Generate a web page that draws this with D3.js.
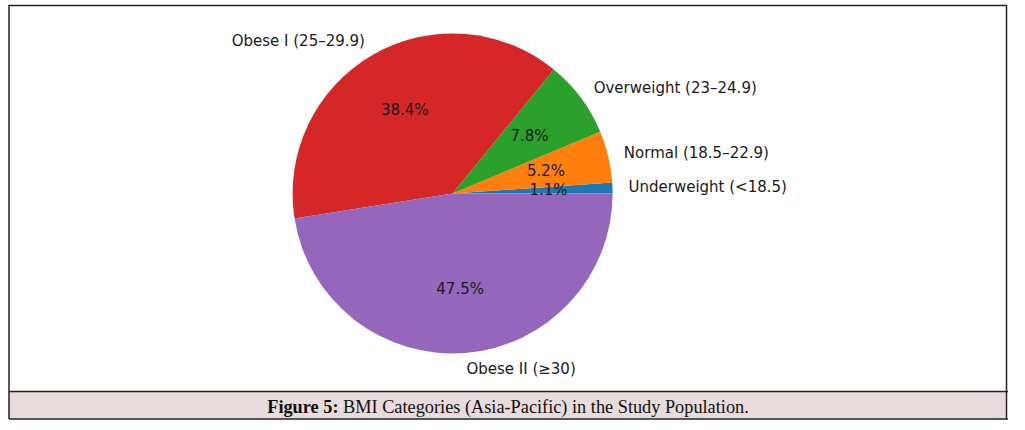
<!DOCTYPE html>
<html>
<head>
<meta charset="utf-8">
<script src="https://d3js.org/d3.v7.min.js"></script>
<style>
  body { margin: 0; background: #fff; }
  svg { display: block; }
</style>
</head>
<body>
<svg id="chart"></svg>
<script>
var width = 1025;
var height = 430;

// BMI categories, in the order matplotlib drew them (counterclockwise from 3 o'clock)
var categories = ["Underweight (<18.5)", "Normal (18.5\u201322.9)", "Overweight (23\u201324.9)", "Obese I (25\u201329.9)", "Obese II (\u226530)"];
var shares = [1.1, 5.2, 7.8, 38.4, 47.5];
var colors = ["#1f77b4", "#ff7f0e", "#2ca02c", "#d62728", "#9467bd"];
var caption = "BMI Categories (Asia-Pacific) in the Study Population.";

var cx = 452.6;
var cy = 193.5;
var radius = 160;

var svg = d3.select("#chart")
    .attr("width", width)
    .attr("height", height);

// frame and caption band
var frameLeft = 9, frameRight = 1006.5, frameTop = 5.5, bandTop = 391.5, bandBottom = 419;

svg.append("rect")
    .attr("x", frameLeft)
    .attr("y", bandTop)
    .attr("width", frameRight - frameLeft)
    .attr("height", bandBottom - bandTop)
    .attr("fill", "#e7dbdb");

svg.append("path")
    .attr("d", `M${frameLeft},${bandBottom}V${frameTop}H${frameRight}V${bandBottom}`)
    .attr("fill", "none")
    .attr("stroke", "#222")
    .attr("stroke-width", 1.5);

[bandTop, bandBottom].forEach(function (y) {
  svg.append("line")
      .attr("x1", frameLeft)
      .attr("x2", frameRight + 1.5)
      .attr("y1", y)
      .attr("y2", y)
      .attr("stroke", "#222")
      .attr("stroke-width", 1.5);
});

var cap = svg.append("text")
    .attr("x", 508)
    .attr("y", 413)
    .attr("text-anchor", "middle")
    .style("font-family", "'Liberation Serif', 'DejaVu Serif', serif")
    .style("font-size", "18.3px")
    .attr("fill", "#111");
cap.append("tspan").style("font-weight", "bold").text("Figure 5:");
cap.append("tspan").text(" " + caption);

// pie: start at east, go counterclockwise like matplotlib
var pie = d3.pie()
    .sort(null)
    .value(d => d)
    .startAngle(Math.PI / 2)
    .endAngle(Math.PI / 2 - 2 * Math.PI);

var arcs = pie(shares);

var arc = d3.arc()
    .innerRadius(0)
    .outerRadius(radius);

var g = svg.append("g")
    .attr("transform", `translate(${cx},${cy})`);

g.selectAll("path.slice")
    .data(arcs)
    .enter()
    .append("path")
      .attr("class", "slice")
      .attr("d", arc)
      .attr("fill", (d, i) => colors[i]);

var textStyle = function (sel) {
  sel.style("font-family", "'DejaVu Sans', sans-serif")
     .style("font-size", "15px")
     .attr("fill", "#1a1a1a")
     .attr("dominant-baseline", "central");
};

// category labels at 1.1 r
g.selectAll("text.label")
    .data(arcs)
    .enter()
    .append("text")
      .attr("class", "label")
      .attr("x", d => Math.sin((d.startAngle + d.endAngle) / 2) * radius * 1.1)
      .attr("y", d => -Math.cos((d.startAngle + d.endAngle) / 2) * radius * 1.1)
      .attr("text-anchor", d => Math.sin((d.startAngle + d.endAngle) / 2) > 0 ? "start" : "end")
      .call(textStyle)
      .text((d, i) => categories[i]);

// percentages at 0.6 r
g.selectAll("text.pct")
    .data(arcs)
    .enter()
    .append("text")
      .attr("class", "pct")
      .attr("x", d => Math.sin((d.startAngle + d.endAngle) / 2) * radius * 0.6)
      .attr("y", d => -Math.cos((d.startAngle + d.endAngle) / 2) * radius * 0.6)
      .attr("text-anchor", "middle")
      .call(textStyle)
      .text(d => d.data.toFixed(1) + "%");
</script>
</body>
</html>
